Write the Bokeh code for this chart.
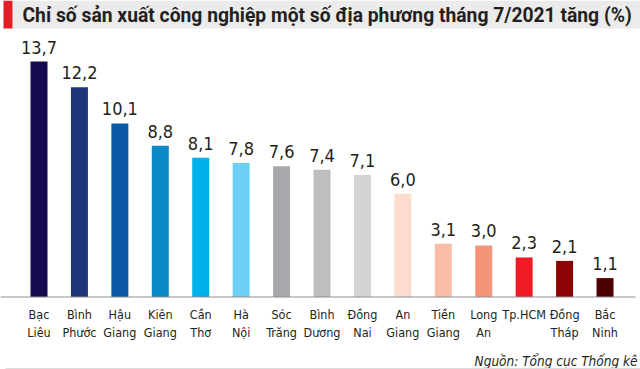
from bokeh.plotting import figure
from bokeh.models import Range1d, ColumnDataSource
from bokeh.core.properties import value
from bokeh.embed import file_html
from bokeh.resources import INLINE

title = "Chỉ số sản xuất công nghiệp một số địa phương tháng 7/2021 tăng (%)"
source_note = "Nguồn: Tổng cục Thống kê"

regions = ["Bạc\nLiêu", "Bình\nPhước", "Hậu\nGiang", "Kiên\nGiang", "Cần\nThơ",
           "Hà\nNội", "Sóc\nTrăng", "Bình\nDương", "Đồng\nNai", "An\nGiang",
           "Tiền\nGiang", "Long\nAn", "Tp.HCM", "Đồng\nTháp", "Bắc\nNinh"]
growth = [13.7, 12.2, 10.1, 8.8, 8.1, 7.8, 7.6, 7.4, 7.1, 6.0, 3.1, 3.0, 2.3, 2.1, 1.1]
colors = ["#150c4f", "#1f3479", "#0b5aa5", "#0a88c8", "#00b1ec", "#6dcff6",
          "#a7a9ac", "#bcbec0", "#d1d3d4", "#fddccf", "#f9bca4", "#f4957a",
          "#ed1c24", "#8b0304", "#4e0001"]

W, H = 640, 369
base_px = 296.5
top_px = 61
unit = (base_px - top_px) / max(growth)
step = 40.43
x0px = 38.5

COND = value("DejaVu Sans Condensed, Roboto, sans-serif")


def dx(px):
    return (px - x0px) / step


def dy(py):
    return (base_px - py) / unit


p = figure(width=W, height=H, output_backend="svg", toolbar_location=None,
           x_range=Range1d(dx(0), dx(W)), y_range=Range1d(dy(H), dy(0)),
           min_border=0, outline_line_color=None)
p.axis.visible = False
p.grid.visible = False
p.background_fill_color = "white"

idx = list(range(len(regions)))
line1 = [r.split("\n")[0] for r in regions]
line2 = [r.split("\n")[1] if "\n" in r else "" for r in regions]
val_labels = [f"{v:.1f}".replace(".", ",") for v in growth]
label_y = [v + 8 / unit for v in growth]

src = ColumnDataSource(dict(x=idx, top=growth, color=colors, l1=line1, l2=line2,
                            lab=val_labels, ly=label_y))

# title band
p.quad(left=dx(12), right=dx(W), top=dy(0), bottom=dy(28), color="#ebebeb", line_color=None)
p.quad(left=dx(3), right=dx(12), top=dy(0), bottom=dy(28), color="#e31e24", line_color=None)
p.text(x=[dx(22)], y=[dy(15)], text=[title], text_baseline="middle",
       text_font=value("Roboto"), text_font_style="bold", text_font_size="19.3px",
       text_color="#231f20")

# bars
p.vbar(x="x", top="top", bottom=0, width=17 / 40.43, color="color", line_color=None, source=src)
p.text(x="x", y="ly", text="lab", source=src, text_align="center", text_baseline="bottom",
       text_font=COND, text_font_size="18px", text_color="#231f20")

# baseline
p.segment(x0=[dx(0)], x1=[dx(635)], y0=[0], y1=[0], line_color="#8f8f8f", line_width=1)

# category labels
p.text(x="x", y=dy(314), text="l1", source=src, text_align="center", text_baseline="middle",
       text_font=COND, text_font_size="12.5px", text_color="#231f20")
p.text(x="x", y=dy(332), text="l2", source=src, text_align="center", text_baseline="middle",
       text_font=COND, text_font_size="12.5px", text_color="#231f20")

# source note
p.text(x=[dx(637)], y=[dy(360)], text=[source_note], text_align="right",
       text_baseline="alphabetic", text_font=COND,
       text_font_style="italic", text_font_size="13.5px", text_color="#231f20")

# bottom rule
p.segment(x0=[dx(5)], x1=[dx(W)], y0=[dy(368)], y1=[dy(368)],
          line_color="#dddddd", line_width=1)

open("out.html", "w").write(file_html(p, INLINE))
